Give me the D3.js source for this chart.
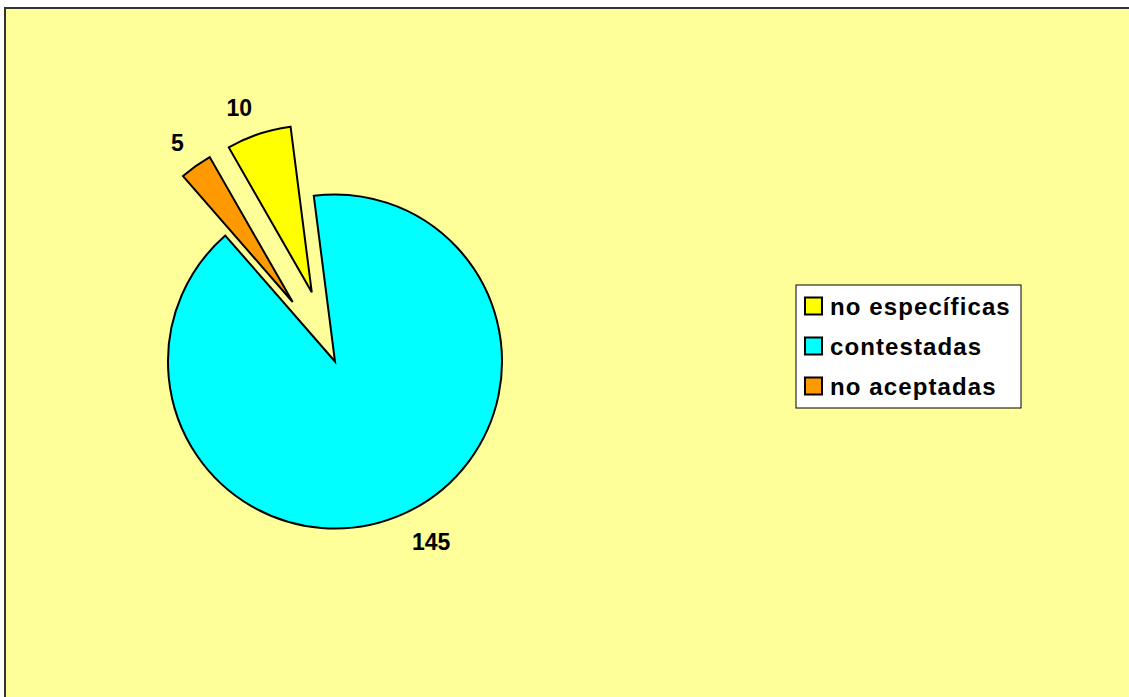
<!DOCTYPE html>
<html>
<head>
<meta charset="utf-8">
<script src="https://cdn.jsdelivr.net/npm/d3@7"></script>
<style>
  html, body { margin: 0; padding: 0; background: #ffffff; }
  svg { display: block; }
  text { font-family: "Liberation Sans", Arial, sans-serif; font-weight: bold; fill: #000; }
</style>
</head>
<body>
<svg id="chart" width="1129" height="697"></svg>
<script>
// Reply categories and their counts
const categories = ["no específicas", "contestadas", "no aceptadas"];
const values = [10, 145, 5];
const colors = ["#FFFF00", "#00FFFF", "#FF9900"];
const exploded = [true, false, true];

const W = 1129, H = 697;
const svg = d3.select("#chart");

// Chart area with its frame (runs past the right and bottom edges)
svg.append("rect")
  .attr("x", 5).attr("y", 8)
  .attr("width", W + 10).attr("height", H + 10)
  .attr("fill", "#FFFF99")
  .attr("stroke", "#333333")
  .attr("stroke-width", 2);

// Pie geometry
const cx = 335, cy = 361.5, radius = 167, explodeDist = 73;
const startDeg = -29.8;
const toRad = d => d * Math.PI / 180;

const pie = d3.pie()
  .sort(null)
  .value(d => d)
  .startAngle(toRad(startDeg))
  .endAngle(toRad(startDeg) + 2 * Math.PI);

const arcs = pie(values);
const arc = d3.arc().innerRadius(0).outerRadius(radius);

const g = svg.append("g").attr("transform", `translate(${cx},${cy})`);

function offsetOf(d, i) {
  if (!exploded[i]) return [0, 0];
  const mid = (d.startAngle + d.endAngle) / 2;
  return [Math.sin(mid) * explodeDist, -Math.cos(mid) * explodeDist];
}

g.selectAll("path.slice")
  .data(arcs)
  .join("path")
  .attr("class", "slice")
  .attr("d", arc)
  .attr("transform", (d, i) => {
    const [ox, oy] = offsetOf(d, i);
    return `translate(${ox},${oy})`;
  })
  .attr("fill", (d, i) => colors[i])
  .attr("stroke", "#000")
  .attr("stroke-width", 2)
  .attr("stroke-linejoin", "miter");

// Value labels: anchored at a point beyond the rim on the slice bisector,
// with the text box placed on the outward side of that point
const labelR = radius + 21;
const capH = 17;
g.selectAll("text.value")
  .data(arcs)
  .join("text")
  .attr("class", "value")
  .attr("font-size", 23)
  .attr("text-anchor", d => Math.sin((d.startAngle + d.endAngle) / 2) < 0 ? "end" : "start")
  .attr("x", (d, i) => {
    const mid = (d.startAngle + d.endAngle) / 2;
    return offsetOf(d, i)[0] + Math.sin(mid) * labelR;
  })
  .attr("y", (d, i) => {
    const mid = (d.startAngle + d.endAngle) / 2;
    const py = offsetOf(d, i)[1] - Math.cos(mid) * labelR;
    return Math.cos(mid) > 0 ? py + 2 : py + capH;
  })
  .text(d => d.data);

// Legend
const lx = 796, ly = 285, lw = 225, lh = 123;
const legend = svg.append("g");
legend.append("rect")
  .attr("x", lx).attr("y", ly)
  .attr("width", lw).attr("height", lh)
  .attr("fill", "#ffffff")
  .attr("stroke", "#000")
  .attr("stroke-width", 1);

const rowY = d3.scalePoint()
  .domain(categories)
  .range([ly + 21, ly + 101]);

const rows = legend.selectAll("g.row")
  .data(categories)
  .join("g")
  .attr("class", "row")
  .attr("transform", d => `translate(${lx}, ${rowY(d)})`);

rows.append("rect")
  .attr("x", 9).attr("y", -8.5)
  .attr("width", 17).attr("height", 17)
  .attr("fill", (d, i) => colors[i])
  .attr("stroke", "#000")
  .attr("stroke-width", 2);

rows.append("text")
  .attr("x", 34)
  .attr("y", 9)
  .attr("font-size", 24)
  .attr("letter-spacing", 1.1)
  .text(d => d);
</script>
</body>
</html>
